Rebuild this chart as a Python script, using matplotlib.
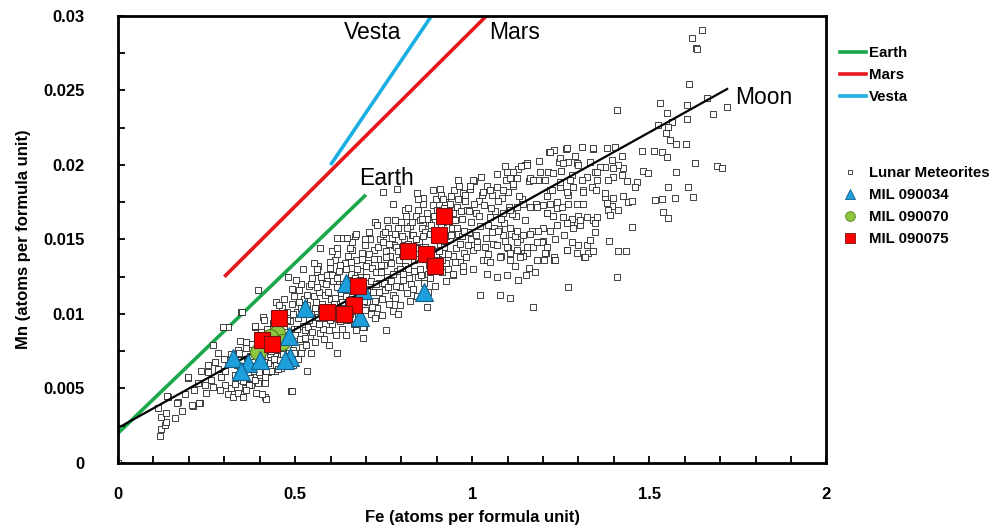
import numpy as np
import matplotlib.pyplot as plt
from matplotlib.lines import Line2D
from matplotlib.ticker import MultipleLocator

plt.rcParams['font.family'] = ['Liberation Sans', 'DejaVu Sans']

# Lunar meteorite analyses: (Fe apfu, Mn apfu x 1000)
lunar_tail = [
    (0.0, 0.0), (0.119, 1.8), (0.122, 2.3), (0.132, 2.55), (0.136, 2.75), (0.122, 3.1), (0.135, 3.35),
    (0.113, 3.7), (0.141, 4.4), (0.169, 4.1), (0.189, 4.6), (0.212, 3.8), (0.232, 4.0), (0.198, 5.7),
    (0.226, 5.4), (0.249, 4.7), (0.234, 6.2), (0.254, 6.1), (0.274, 6.8), (0.291, 5.8), (0.268, 5.1),
    (0.302, 5.2), (0.311, 4.6), (0.325, 4.4), (0.319, 5.0), (0.339, 4.7), (0.353, 4.4), (0.359, 5.0),
    (0.376, 5.2), (0.390, 4.7), (0.415, 4.4), (0.418, 4.3), (0.489, 4.8), (0.282, 7.4), (0.268, 7.9),
    (0.311, 9.1), (0.297, 9.1), (0.347, 10.1), (0.410, 9.8), (0.387, 9.1), (0.362, 8.1), (0.339, 7.6),
    (0.311, 6.9), (0.302, 6.2), (0.330, 5.9), (0.347, 5.6), (0.367, 5.7), (0.387, 5.8), (0.404, 6.0),
    (0.395, 5.4), (0.415, 5.4), (0.373, 6.4), (0.404, 6.4), (0.432, 6.9), (0.444, 6.2), (0.424, 6.1),
    (0.460, 6.4), (0.460, 7.2), (0.486, 7.2), (0.209, 3.9), (0.229, 4.0), (0.407, 4.6), (0.492, 4.8),
    (0.534, 6.2), (0.619, 7.4), (0.138, 4.5), (0.167, 4.0), (0.198, 5.8), (0.395, 11.6), (0.350, 10.1),
    (0.255, 6.6), (0.283, 6.3), (0.262, 5.6), (0.245, 5.2), (0.287, 4.9), (0.300, 7.0), (0.320, 7.3),
    (0.215, 4.9), (0.180, 3.5), (0.160, 3.0),
]

lunar_core = [
    (0.331, 5.3), (0.336, 6.6), (0.342, 7.4), (0.338, 5.9), (0.345, 6.2), (0.351, 7.0), (0.354, 5.5),
    (0.357, 6.8), (0.362, 7.7), (0.366, 6.0), (0.369, 5.2), (0.372, 7.2), (0.376, 6.5), (0.379, 8.0),
    (0.343, 8.2), (0.361, 4.9), (0.374, 5.7), (0.348, 6.9),
    (0.382, 6.3), (0.384, 7.5), (0.388, 5.6), (0.391, 8.4), (0.394, 6.9), (0.397, 7.8), (0.401, 5.9),
    (0.404, 8.8), (0.407, 7.1), (0.409, 6.4), (0.413, 8.1), (0.416, 5.8), (0.418, 7.6), (0.421, 9.0),
    (0.424, 6.7), (0.427, 8.5), (0.429, 7.3), (0.386, 9.2), (0.411, 9.6), (0.399, 6.1),
    (0.432, 6.2), (0.435, 8.0), (0.437, 9.4), (0.440, 7.0), (0.443, 10.0), (0.446, 6.6), (0.448, 8.7),
    (0.451, 7.6), (0.454, 9.8), (0.457, 6.9), (0.460, 8.3), (0.463, 10.4), (0.466, 7.3), (0.468, 9.1),
    (0.471, 6.5), (0.474, 8.8), (0.477, 10.1), (0.479, 7.8), (0.445, 10.8), (0.470, 11.0),
    (0.482, 7.1), (0.485, 9.5), (0.487, 8.2), (0.490, 10.7), (0.493, 7.6), (0.496, 9.0), (0.498, 11.2),
    (0.501, 8.6), (0.504, 10.1), (0.507, 7.0), (0.509, 9.7), (0.512, 11.6), (0.515, 8.3), (0.518, 10.4),
    (0.520, 7.8), (0.523, 9.2), (0.526, 11.0), (0.529, 8.9), (0.495, 6.6), (0.517, 12.0), (0.503, 12.3),
    (0.532, 7.9), (0.534, 10.6), (0.537, 9.1), (0.540, 11.9), (0.543, 8.5), (0.546, 10.0), (0.548, 12.4),
    (0.551, 9.4), (0.554, 11.2), (0.557, 8.1), (0.559, 10.8), (0.562, 12.8), (0.565, 9.8), (0.568, 11.5),
    (0.570, 8.7), (0.573, 10.3), (0.576, 12.1), (0.579, 9.0), (0.545, 7.4), (0.566, 13.2), (0.552, 13.4),
    (0.582, 8.3), (0.584, 11.3), (0.587, 9.7), (0.590, 12.6), (0.593, 10.4), (0.596, 8.9), (0.598, 13.1),
    (0.601, 11.0), (0.604, 9.3), (0.607, 12.2), (0.609, 10.7), (0.612, 13.6), (0.615, 8.6), (0.618, 11.8),
    (0.620, 10.1), (0.623, 12.9), (0.626, 9.5), (0.629, 11.4), (0.595, 7.9), (0.617, 14.0), (0.605, 14.2),
    (0.632, 9.0), (0.634, 12.0), (0.637, 10.5), (0.640, 13.4), (0.643, 11.2), (0.646, 9.6), (0.648, 13.9),
    (0.651, 11.7), (0.654, 10.0), (0.657, 12.7), (0.659, 11.0), (0.662, 14.3), (0.665, 9.3), (0.668, 12.4),
    (0.670, 10.8), (0.673, 13.6), (0.676, 10.2), (0.679, 12.1), (0.645, 8.6), (0.660, 14.8), (0.671, 8.9),
    (0.682, 9.6), (0.684, 12.9), (0.687, 11.3), (0.690, 14.1), (0.693, 12.0), (0.696, 10.3), (0.698, 14.6),
    (0.701, 12.5), (0.704, 10.8), (0.707, 13.4), (0.709, 11.7), (0.712, 15.0), (0.715, 10.0), (0.718, 13.1),
    (0.720, 11.5), (0.723, 14.3), (0.726, 10.9), (0.729, 12.8), (0.695, 9.1), (0.710, 15.5), (0.725, 9.7),
    (0.732, 10.4), (0.734, 13.7), (0.737, 12.1), (0.740, 15.0), (0.743, 12.8), (0.746, 11.0), (0.748, 15.4),
    (0.751, 13.3), (0.754, 11.6), (0.757, 14.2), (0.759, 12.5), (0.762, 15.8), (0.765, 10.7), (0.768, 13.9),
    (0.770, 12.2), (0.773, 15.1), (0.776, 11.3), (0.779, 14.6), (0.745, 9.9), (0.760, 16.3), (0.775, 10.2),
    (0.782, 11.1), (0.784, 14.5), (0.787, 12.9), (0.790, 15.8), (0.793, 13.6), (0.796, 11.8), (0.798, 16.2),
    (0.801, 14.1), (0.804, 12.3), (0.807, 15.0), (0.809, 13.2), (0.812, 16.6), (0.815, 11.4), (0.818, 14.7),
    (0.820, 13.0), (0.823, 15.9), (0.826, 12.0), (0.829, 15.3), (0.795, 10.6), (0.810, 17.0), (0.825, 10.9),
    (0.832, 11.7), (0.834, 15.3), (0.837, 13.6), (0.840, 16.6), (0.843, 14.4), (0.846, 12.5), (0.848, 17.0),
    (0.851, 14.9), (0.854, 13.0), (0.857, 15.8), (0.859, 14.0), (0.862, 17.4), (0.865, 12.1), (0.868, 15.5),
    (0.870, 13.8), (0.873, 16.8), (0.876, 12.7), (0.879, 16.1), (0.845, 11.2), (0.860, 17.8), (0.875, 11.5),
    (0.882, 12.4), (0.884, 16.0), (0.887, 14.3), (0.890, 17.3), (0.893, 15.1), (0.896, 13.2), (0.898, 17.7),
    (0.901, 15.6), (0.904, 13.7), (0.907, 16.5), (0.909, 14.7), (0.912, 18.0), (0.915, 12.8), (0.918, 16.2),
    (0.920, 14.5), (0.923, 17.5), (0.926, 13.4), (0.929, 16.9), (0.895, 11.9), (0.910, 18.4), (0.925, 12.2),
    (0.932, 13.0), (0.934, 16.7), (0.937, 15.0), (0.940, 17.9), (0.943, 15.8), (0.946, 13.9), (0.948, 18.3),
    (0.951, 16.3), (0.954, 14.4), (0.957, 17.2), (0.959, 15.4), (0.962, 18.6), (0.965, 13.5), (0.968, 16.9),
    (0.970, 15.2), (0.973, 18.1), (0.976, 14.1), (0.979, 17.6), (0.945, 12.6), (0.960, 19.0), (0.975, 12.9),
    (0.982, 13.8), (0.986, 17.0), (0.990, 15.5), (0.994, 18.4), (0.998, 16.2), (1.002, 14.3), (1.006, 18.9),
    (1.010, 16.8), (1.014, 14.8), (1.018, 17.6), (1.022, 15.9), (1.026, 19.2), (1.030, 13.6), (1.034, 17.3),
    (1.038, 15.1), (1.042, 18.6), (1.046, 14.0), (1.050, 16.5),
    (1.055, 18.0), (1.060, 14.7), (1.065, 16.9), (1.070, 19.4), (1.075, 15.7), (1.080, 13.9), (1.085, 17.8),
    (1.090, 16.1), (1.095, 19.0), (1.100, 14.4), (1.105, 17.2), (1.110, 15.4), (1.115, 18.6), (1.120, 13.2),
    (1.125, 16.6), (1.130, 19.7), (1.135, 15.0), (1.140, 17.7), (1.145, 14.1), (1.150, 16.3),
    (1.160, 18.9), (1.170, 15.6), (1.180, 17.4), (1.190, 20.3), (1.200, 14.9), (1.210, 16.8), (1.220, 18.3),
    (1.230, 13.8), (1.240, 17.1), (1.250, 19.6), (1.260, 15.3), (1.270, 18.0), (1.280, 16.2), (1.290, 20.6),
    (1.300, 14.6),
]

# second pass over the dense middle of the band
lunar_core_b = [
    (0.402, 7.4), (0.412, 6.8), (0.422, 8.2), (0.433, 7.5), (0.442, 8.9), (0.452, 6.3), (0.458, 9.3),
    (0.467, 8.0), (0.476, 9.6), (0.484, 8.6), (0.494, 10.0), (0.497, 7.4), (0.419, 6.2), (0.438, 7.8),
    (0.455, 10.6),
    (0.506, 9.0), (0.511, 10.8), (0.516, 7.4), (0.522, 10.0), (0.527, 8.4), (0.533, 11.3), (0.538, 9.6),
    (0.544, 12.0), (0.549, 8.8), (0.555, 10.4), (0.561, 11.8), (0.567, 9.3), (0.572, 12.5), (0.577, 10.7),
    (0.583, 9.9), (0.588, 12.0), (0.594, 11.5), (0.599, 9.6),
    (0.603, 12.6), (0.608, 10.2), (0.613, 11.1), (0.619, 12.4), (0.624, 9.8), (0.628, 13.3), (0.633, 10.8),
    (0.639, 11.8), (0.644, 13.0), (0.649, 10.4), (0.653, 12.2), (0.658, 13.5), (0.663, 10.7), (0.667, 11.9),
    (0.674, 13.0), (0.678, 9.9), (0.683, 12.3), (0.688, 13.7), (0.694, 10.9), (0.699, 13.2),
    (0.703, 11.6), (0.708, 14.0), (0.713, 12.2), (0.717, 10.5), (0.722, 13.7), (0.728, 12.0), (0.733, 14.5),
    (0.738, 11.5), (0.742, 13.3), (0.747, 14.8), (0.752, 12.1), (0.756, 13.8), (0.761, 11.8), (0.766, 14.7),
    (0.771, 13.4), (0.777, 12.7), (0.781, 15.4), (0.786, 11.9), (0.791, 14.2), (0.797, 13.0),
    (0.802, 15.2), (0.806, 12.7), (0.811, 14.4), (0.816, 15.8), (0.821, 12.4), (0.827, 14.0), (0.831, 16.2),
    (0.836, 12.9), (0.841, 15.0), (0.847, 13.7), (0.852, 16.3), (0.856, 12.6), (0.861, 15.2), (0.866, 14.5),
    (0.872, 16.4), (0.877, 13.3), (0.881, 15.4), (0.886, 12.9), (0.891, 16.6), (0.897, 14.0),
    (0.902, 17.0), (0.906, 14.2), (0.911, 15.9), (0.916, 13.6), (0.921, 17.1), (0.927, 15.2), (0.931, 14.0),
    (0.936, 17.4), (0.941, 15.3), (0.947, 16.8), (0.952, 13.5), (0.956, 15.8), (0.961, 17.7), (0.966, 14.7),
    (0.972, 16.4), (0.977, 15.6), (0.981, 18.0), (0.987, 14.6), (0.992, 16.9), (0.997, 15.0),
    (1.004, 17.4), (1.012, 15.3), (1.020, 16.6), (1.028, 18.0), (1.036, 14.5), (1.044, 16.0), (1.052, 17.1),
    (1.062, 15.8), (1.072, 17.6), (1.082, 16.4), (1.092, 14.9), (1.102, 18.2), (1.112, 16.7), (1.122, 15.2),
    (1.132, 17.9),
]

lunar_upper = [
    (0.749, 18.2), (0.788, 18.4), (0.845, 18.1), (0.890, 18.3), (0.847, 17.7), (0.777, 17.4), (1.003, 19.0),
    (0.994, 18.6), (1.093, 19.9), (1.150, 20.0), (1.116, 19.5), (0.819, 17.1), (0.918, 17.7), (0.726, 16.2),
    (0.669, 15.2), (0.636, 15.1), (0.619, 15.1), (0.698, 15.0), (0.782, 16.3), (0.859, 16.4), (0.731, 16.0),
    (0.754, 15.5), (0.672, 15.4), (0.647, 15.1), (0.571, 14.4), (0.619, 14.4), (0.655, 14.4), (0.599, 13.5),
    (0.562, 13.0), (0.523, 13.0), (0.480, 12.5), (0.492, 11.7),
]

lunar_lower = [
    (0.757, 8.9), (0.791, 10.0), (0.873, 10.5), (0.692, 8.4), (0.692, 9.1), (1.023, 11.3), (1.079, 11.3),
    (1.107, 11.1), (1.130, 12.3), (1.099, 12.6), (0.975, 13.2), (0.946, 12.7), (1.003, 13.0), (1.042, 12.7),
    (1.071, 12.5), (1.042, 13.6), (1.107, 14.1), (1.127, 14.3), (1.155, 14.1), (1.014, 14.5), (1.172, 10.5),
    (1.271, 11.8), (1.410, 12.5), (1.316, 13.8), (1.328, 14.1), (1.325, 14.6), (1.268, 14.3), (1.232, 13.6),
    (1.203, 13.6), (1.209, 14.1), (1.178, 12.8), (1.161, 13.1), (1.153, 12.6), (1.172, 14.5), (1.144, 13.9),
    (1.198, 14.8), (1.282, 14.8), (1.387, 14.9), (1.412, 14.2), (1.435, 14.2),
]

lunar_high_fe = [
    (1.218, 20.9), (1.232, 21.0), (1.266, 21.1), (1.311, 21.2), (1.342, 21.1), (1.246, 20.2), (1.271, 20.2),
    (1.297, 20.1), (1.155, 20.1), (1.138, 19.9), (1.099, 19.5), (1.192, 19.5), (1.215, 19.5), (1.206, 19.0),
    (1.186, 19.0), (1.164, 19.1), (1.127, 19.1), (1.107, 19.1), (1.116, 18.7), (1.088, 18.3), (1.071, 18.5),
    (1.051, 18.3), (1.031, 18.2), (1.212, 17.9), (1.226, 18.3), (1.249, 18.5), (1.268, 18.2), (1.285, 18.5),
    (1.314, 18.3), (1.339, 18.5), (1.353, 19.0), (1.347, 19.5), (1.325, 19.2), (1.314, 17.4), (1.297, 17.4),
    (1.271, 17.4), (1.254, 17.2), (1.240, 17.5), (1.220, 17.4), (1.201, 17.3), (1.184, 17.2), (1.164, 17.2),
    (1.144, 17.4), (1.127, 17.2), (1.107, 17.0), (1.088, 16.8), (1.212, 16.8), (1.229, 16.6), (1.257, 16.5),
    (1.282, 16.4), (1.299, 16.6), (1.325, 16.5), (1.342, 16.3), (1.305, 16.0), (1.285, 15.8), (1.268, 16.1),
    (1.240, 16.0), (1.220, 15.6), (1.201, 15.8), (1.186, 15.6), (1.164, 15.4), (1.144, 15.3), (1.127, 15.6),
    (1.107, 15.8), (1.088, 15.3), (1.073, 15.6), (1.056, 15.5), (1.071, 14.6), (1.099, 14.5), (1.127, 14.8),
    (1.155, 14.5), (1.184, 14.8), (1.212, 14.5), (1.234, 15.0), (1.268, 14.3), (1.319, 13.8), (1.342, 14.2),
    (1.297, 14.1), (1.234, 13.6), (1.206, 14.1), (1.184, 13.6), (1.136, 13.8), (1.107, 13.6), (1.079, 13.8),
    (1.051, 13.5),
    (1.650, 29.06), (1.621, 28.52), (1.633, 27.85), (1.636, 27.8), (1.613, 25.44), (1.531, 24.16),
    (1.409, 23.69), (1.607, 24.03), (1.551, 23.5), (1.664, 24.5), (1.720, 23.9), (1.681, 23.42),
    (1.607, 23.09), (1.565, 22.89), (1.525, 22.68), (1.554, 22.55), (1.548, 22.15), (1.559, 21.68),
    (1.576, 21.41), (1.604, 21.41), (1.480, 20.94), (1.514, 20.94), (1.537, 20.87), (1.551, 20.54),
    (1.424, 20.6), (1.381, 21.14), (1.404, 21.21), (1.342, 21.14), (1.630, 20.13), (1.692, 19.93),
    (1.706, 19.8), (1.576, 19.53), (1.483, 19.6), (1.497, 19.46), (1.427, 19.8), (1.412, 20.0),
    (1.395, 20.34), (1.398, 19.8), (1.376, 19.87), (1.362, 19.87), (1.353, 19.53), (1.424, 19.3),
    (1.398, 19.2), (1.384, 19.0), (1.466, 18.86), (1.438, 18.9), (1.460, 18.52), (1.350, 18.32),
    (1.554, 18.52), (1.610, 18.52), (1.624, 17.85), (1.573, 17.79), (1.537, 17.72), (1.517, 17.65),
    (1.376, 17.85), (1.398, 17.79), (1.427, 17.92), (1.441, 17.52), (1.452, 17.58), (1.395, 17.25),
    (1.384, 16.98), (1.390, 16.64), (1.353, 16.51), (1.412, 16.98), (1.540, 16.85), (1.554, 16.44),
    (1.452, 15.84), (1.347, 16.1), (1.347, 15.5), (1.268, 21.14), (1.220, 20.87), (1.249, 20.47),
    (1.257, 20.13), (1.300, 20.0), (1.333, 20.2), (1.282, 19.33), (1.311, 19.0), (1.277, 19.0),
    (1.249, 18.86), (1.229, 19.46), (1.172, 19.0), (1.155, 20.0), (1.376, 18.12), (1.381, 17.45),
    (1.314, 18.19), (1.305, 16.31), (1.333, 14.97),
]

mil_090034 = [(0.644, 12.1), (0.692, 11.6), (0.864, 11.5), (0.528, 10.4), (0.684, 9.8), (0.483, 8.5),
              (0.486, 7.1), (0.472, 6.9), (0.325, 7.05), (0.367, 6.7), (0.347, 6.2), (0.400, 6.9)]
mil_090070 = [(0.449, 8.7), (0.463, 8.1), (0.395, 7.45), (0.430, 8.1), (0.429, 8.45)]
mil_090075 = [(0.921, 16.6), (0.907, 15.3), (0.819, 14.2), (0.870, 14.0), (0.895, 13.2), (0.678, 11.9),
              (0.667, 10.6), (0.590, 10.1), (0.638, 10.0), (0.455, 9.7), (0.407, 8.25), (0.435, 8.0)]

# planetary Fe/Mn trend lines (Fe apfu, Mn apfu)
earth_fe, earth_mn = [0.0, 0.70], [0.0020, 0.0180]
mars_fe, mars_mn = [0.30, 1.04], [0.0125, 0.0300]
vesta_fe, vesta_mn = [0.60, 0.885], [0.0200, 0.0300]
moon_fe, moon_mn = [0.0, 1.72], [0.00235, 0.0251]


def split(pts):
    return [p[0] for p in pts], [p[1] * 1e-3 for p in pts]


lunar = lunar_tail + lunar_core + lunar_core_b + lunar_upper + lunar_lower + lunar_high_fe
lun_fe, lun_mn = split(lunar)

fig = plt.figure(figsize=(9.92, 5.29), dpi=100)
ax = fig.add_axes([0.119, 0.1248, 0.714, 0.845])

green, red, blue = '#1aa84b', '#e8171c', '#1aaee3'
ax.plot(earth_fe, earth_mn, color=green, lw=2.6, zorder=1, solid_capstyle='butt')
ax.plot(mars_fe, mars_mn, color=red, lw=2.6, zorder=1, solid_capstyle='butt')
ax.plot(vesta_fe, vesta_mn, color=blue, lw=2.6, zorder=1, solid_capstyle='butt')

ax.scatter(lun_fe, lun_mn, marker='s', s=13, facecolors='white', edgecolors='#222222',
           linewidths=0.6, zorder=2)
ax.plot(moon_fe, moon_mn, color='black', lw=1.6, zorder=3)

x, y = split(mil_090070)
ax.plot(x, y, 'o', ms=11.5, mfc='#8dc63f', mec='#4f7a20', mew=0.8, zorder=4)
x, y = split(mil_090034)
ax.plot(x, y, '^', ms=12.5, mfc='#1c9fdb', mec='#125f8a', mew=0.8, zorder=5)
x, y = split(mil_090075)
ax.plot(x, y, 's', ms=11, mfc='#ff0000', mec='#7a1010', mew=0.8, zorder=6)

ax.text(0.72, 0.0289, 'Vesta', fontsize=16.5, ha='center', va='center')
ax.text(1.12, 0.0289, 'Mars', fontsize=16.5, ha='center', va='center')
ax.text(0.757, 0.0191, 'Earth', fontsize=16.5, ha='center', va='center')
ax.text(1.822, 0.0245, 'Moon', fontsize=16.5, ha='center', va='center')

ax.set_xlim(0, 2)
ax.set_ylim(0, 0.03)
ax.set_xticks([0, 0.5, 1, 1.5, 2])
ax.set_xticklabels(['0', '0.5', '1', '1.5', '2'])
ax.set_yticks([0, 0.005, 0.01, 0.015, 0.02, 0.025, 0.03])
ax.set_yticklabels(['0', '0.005', '0.01', '0.015', '0.02', '0.025', '0.03'])
ax.xaxis.set_minor_locator(MultipleLocator(0.1))
ax.yaxis.set_minor_locator(MultipleLocator(0.0025))
ax.tick_params(which='both', direction='in', length=5, width=1.3)
ax.tick_params(axis='x', pad=17, labelsize=12)
ax.tick_params(axis='y', pad=24, labelsize=12)
for lab in ax.get_xticklabels() + ax.get_yticklabels():
    lab.set_fontweight('bold')
for sp in ax.spines.values():
    sp.set_linewidth(2)

ax.set_xlabel('Fe (atoms per formula unit)', fontsize=12, fontweight='bold', labelpad=6)
ax.set_ylabel('Mn (atoms per formula unit)', fontsize=12, fontweight='bold', labelpad=9)

lprop = {'weight': 'bold', 'size': 10.8}
h1 = [Line2D([], [], color=c, lw=2.6) for c in (green, red, blue)]
fig.legend(h1, ['Earth', 'Mars', 'Vesta'], loc='upper left', bbox_to_anchor=(0.8468, 0.913),
           frameon=False, prop=lprop, handlelength=1.73, handletextpad=0.2, labelspacing=0.53,
           borderpad=0, borderaxespad=0)
h2 = [Line2D([], [], ls='none', marker='s', ms=3.5, mfc='white', mec='#2a2a2a', mew=0.6),
      Line2D([], [], ls='none', marker='^', ms=7, mfc='#1c9fdb', mec='#125f8a', mew=0.6),
      Line2D([], [], ls='none', marker='o', ms=7, mfc='#8dc63f', mec='#4f7a20', mew=0.6),
      Line2D([], [], ls='none', marker='s', ms=6.5, mfc='#ff0000', mec='#7a1010', mew=0.6)]
fig.legend(h2, ['Lunar Meteorites', 'MIL 090034', 'MIL 090070', 'MIL 090075'], loc='upper left',
           bbox_to_anchor=(0.8468, 0.686), frameon=False, prop=lprop, handlelength=1.35,
           handletextpad=0.6, labelspacing=0.53, borderpad=0, borderaxespad=0)

fig.savefig('out.png', dpi=100)
